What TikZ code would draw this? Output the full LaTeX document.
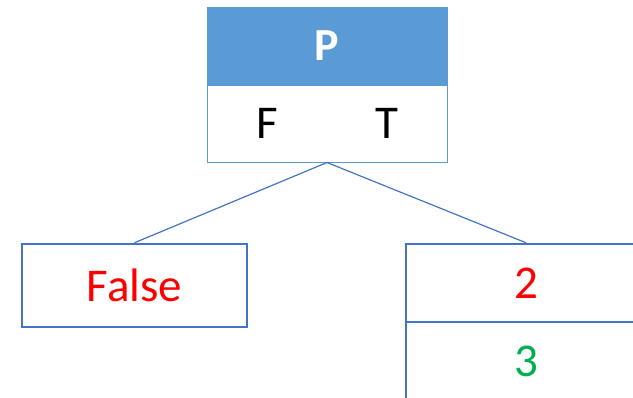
\documentclass[tikz,border=0pt]{standalone}
\usepackage{fontspec}
\setmainfont{Carlito}
\definecolor{hdrblue}{HTML}{5B9BD5}
\definecolor{edgeblue}{HTML}{4472C4}
\definecolor{valred}{HTML}{FF0000}
\definecolor{valgreen}{HTML}{00B050}

\begin{document}
\begin{tikzpicture}[x=1pt,y=-1pt,
  every node/.style={inner sep=0pt,font=\fontsize{47}{54}\selectfont},
  hdr/.style={fill=hdrblue,draw=hdrblue,line width=1pt,minimum width=240pt,minimum height=78pt},
  arms/.style={draw=hdrblue,line width=1pt,minimum width=240pt,minimum height=77pt},
  leaf/.style={draw=edgeblue,line width=2.5pt,minimum height=83pt},
  branch/.style={draw=edgeblue,line width=1.2pt}]
  \useasboundingbox (0,0) rectangle (633,397);
  \clip (0,0) rectangle (633,397);
  % root: variable and its two branches
  \node[hdr] (p) at (327,46) {};
  \node[text=white,font=\fontsize{46}{54}\selectfont\bfseries] (plabel) at (p) {P};
  \node[arms] (pft) at (327,123.5) {};
  \node (f) at (267,123.5) {F};
  \node (t) at (387,123.5) {T};
  % leaves
  \node[leaf,minimum width=225pt,text=valred] (no) at (134.5,285.5) {False};
  \node[leaf,minimum width=240pt,minimum height=78pt,text=valred] (yes) at (526,283) {2};
  \node[leaf,minimum width=240pt,minimum height=78pt,text=valgreen] (yesnext) at (526,361) {3};
  \draw[branch] (pft.south) -- (no.north);
  \draw[branch] (pft.south) -- (yes.north);
\end{tikzpicture}
\end{document}
